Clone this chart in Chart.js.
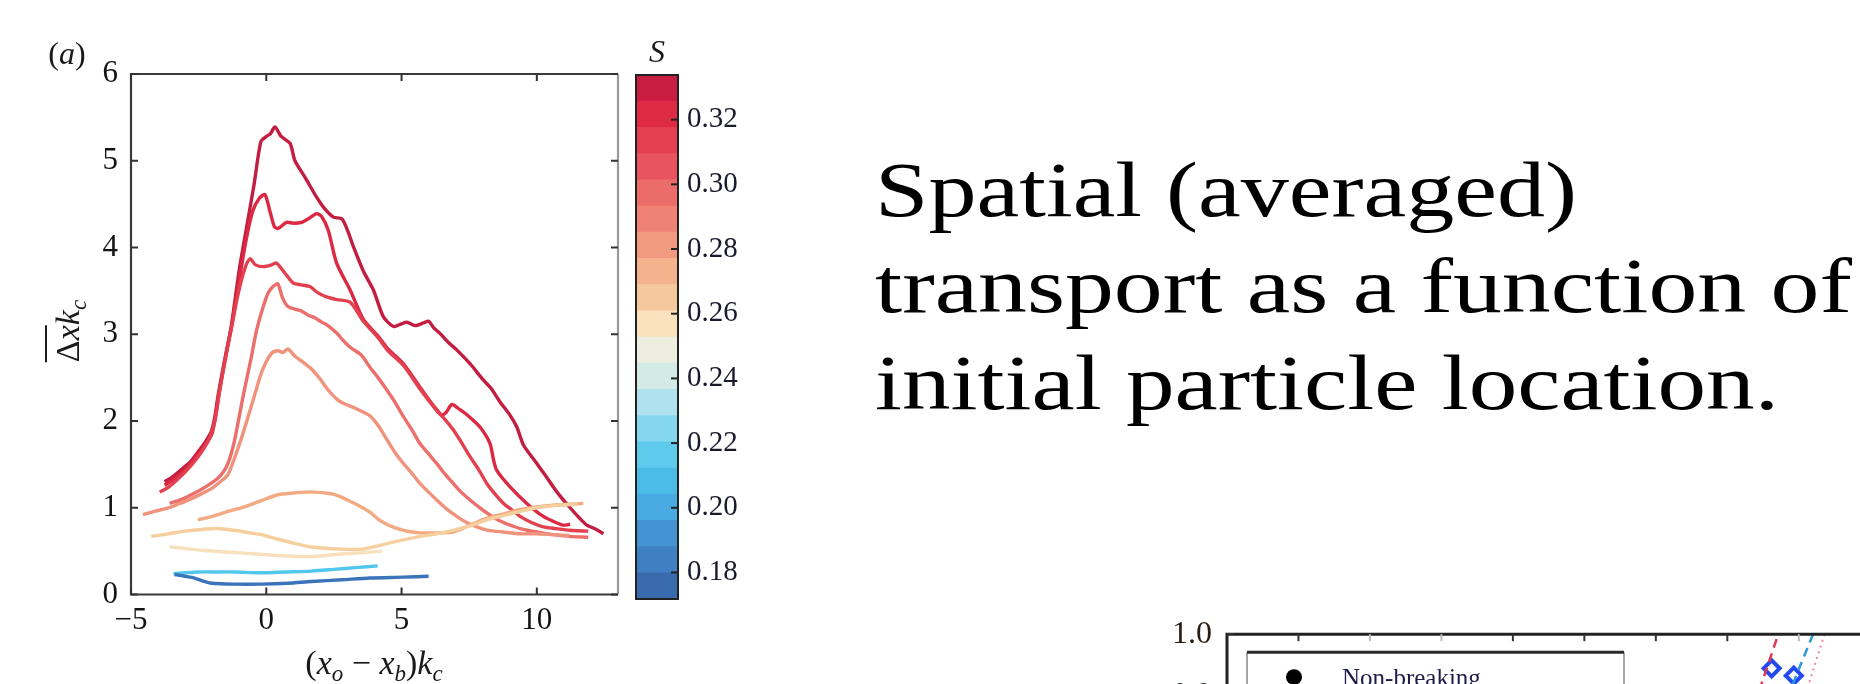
<!DOCTYPE html>
<html><head><meta charset="utf-8">
<script src="https://cdn.jsdelivr.net/npm/chart.js@4.4.0/dist/chart.umd.min.js"></script>
<style>
html,body{margin:0;padding:0;width:1860px;height:684px;overflow:hidden;background:#fff;}
canvas{position:absolute;}
#main{left:0;top:0;}
#cbar{left:600px;top:0;}
#snip{left:1140px;top:600px;}
.txt{position:absolute;left:875px;font-family:"Liberation Serif","Times New Roman",serif;color:#000;white-space:nowrap;transform-origin:0 0;line-height:1;}
</style></head><body>
<canvas id="main" width="630" height="684"></canvas>
<canvas id="cbar" width="160" height="684"></canvas>
<canvas id="snip" width="780" height="520"></canvas>
<div class="txt" id="l1">Spatial (averaged)</div>
<div class="txt" id="l2">transport as a function of</div>
<div class="txt" id="l3">initial particle location.</div>
<script>
// ---------- main panel data ----------
const xTicks = [-5, 0, 5, 10];
const yTicks = [0, 1, 2, 3, 4, 5, 6];
const curveA = [[-3.76,1.30],[-3.45,1.36],[-3.14,1.44],[-2.8,1.53],[-2.53,1.64],[-2.25,1.76],[-2.03,1.88],[-1.9,2.05],[-1.79,2.28],[-1.54,2.70],[-1.3,3.08],[-1.0,3.74],[-0.7,4.28],[-0.45,4.73],[-0.2,5.22],[0.0,5.28],[0.15,5.31],[0.32,5.39],[0.55,5.28],[0.88,5.20],[1.06,5.00],[1.45,4.80],[1.86,4.58],[2.15,4.45],[2.48,4.35],[2.79,4.33],[3.0,4.20],[3.22,4.01],[3.6,3.72],[3.96,3.51],[4.33,3.20],[4.70,3.09],[5.0,3.12],[5.19,3.14],[5.5,3.10],[5.81,3.13],[6.0,3.15],[6.2,3.07],[6.42,3.01],[6.75,2.90],[7.04,2.82],[7.53,2.66],[8.03,2.47],[8.3,2.38],[8.64,2.22],[9.0,2.07],[9.26,1.93],[9.51,1.72],[10.0,1.51],[10.3,1.38],[10.61,1.24],[10.9,1.12],[11.23,1.00],[11.55,0.89],[11.85,0.80],[12.2,0.75],[12.46,0.70]];
const curveB = [[-3.76,1.26],[-3.4,1.33],[-3.0,1.44],[-2.6,1.58],[-2.2,1.75],[-2.0,1.86],[-1.85,2.1],[-1.7,2.4],[-1.5,2.75],[-1.25,3.15],[-1.0,3.62],[-0.75,4.08],[-0.5,4.42],[-0.25,4.57],[-0.05,4.61],[0.15,4.40],[0.30,4.24],[0.44,4.22],[0.75,4.29],[1.0,4.28],[1.31,4.29],[1.6,4.34],[1.86,4.39],[2.04,4.36],[2.29,4.20],[2.6,3.82],[3.1,3.51],[3.59,3.17],[4.13,2.98],[4.5,2.83],[5.07,2.66],[5.68,2.39],[6.0,2.25],[6.30,2.13],[6.49,2.07],[6.65,2.10],[6.86,2.19],[7.16,2.13],[7.5,2.05],[7.9,1.93],[8.27,1.74],[8.4,1.55],[8.52,1.43],[9.01,1.24],[9.63,1.05],[10.24,0.90],[10.7,0.83],[10.98,0.80],[11.23,0.81]];
const curveC = [[-3.94,1.18],[-3.6,1.24],[-3.2,1.35],[-2.8,1.48],[-2.4,1.64],[-2.1,1.80],[-1.9,2.0],[-1.75,2.3],[-1.55,2.65],[-1.3,3.05],[-1.05,3.45],[-0.8,3.75],[-0.6,3.87],[-0.4,3.80],[-0.1,3.78],[0.2,3.80],[0.38,3.82],[0.7,3.70],[1.0,3.59],[1.3,3.57],[1.61,3.55],[1.9,3.48],[2.23,3.43],[2.6,3.40],[3.1,3.37],[3.59,3.15],[4.13,2.96],[4.5,2.81],[5.07,2.64],[5.68,2.37],[6.30,2.12],[6.6,2.02],[6.91,1.90],[7.2,1.76],[7.53,1.59],[7.85,1.44],[8.15,1.28],[8.45,1.16],[8.77,1.05],[9.1,0.97],[9.38,0.90],[9.8,0.83],[10.24,0.78],[10.7,0.76],[11.23,0.74],[11.9,0.73]];
const curveD = [[-3.57,1.05],[-3.1,1.10],[-2.65,1.17],[-2.2,1.25],[-1.79,1.34],[-1.55,1.43],[-1.42,1.51],[-1.3,1.62],[-1.17,1.78],[-1.0,2.05],[-0.86,2.28],[-0.7,2.52],[-0.55,2.74],[-0.37,3.03],[-0.15,3.28],[0.06,3.47],[0.25,3.55],[0.43,3.58],[0.6,3.42],[0.80,3.32],[1.05,3.29],[1.29,3.27],[1.55,3.22],[1.79,3.19],[2.05,3.14],[2.28,3.10],[2.65,3.00],[2.78,2.95],[3.1,2.85],[3.51,2.76],[3.83,2.62],[4.13,2.50],[4.45,2.36],[4.75,2.22],[5.07,2.05],[5.4,1.89],[5.68,1.74],[6.0,1.62],[6.30,1.51],[6.6,1.39],[6.91,1.28],[7.2,1.18],[7.53,1.09],[7.85,1.01],[8.15,0.94],[8.45,0.88],[8.77,0.83],[9.1,0.79],[9.38,0.76],[10.0,0.72],[10.61,0.69],[11.2,0.67],[11.9,0.66]];
const curveE = [[-4.56,0.92],[-4.1,0.96],[-3.6,1.00],[-3.27,1.04],[-2.8,1.10],[-2.4,1.16],[-2.03,1.22],[-1.7,1.30],[-1.42,1.38],[-1.2,1.55],[-0.92,1.80],[-0.7,2.02],[-0.43,2.30],[-0.15,2.58],[0.19,2.78],[0.43,2.81],[0.62,2.79],[0.80,2.83],[1.05,2.75],[1.35,2.68],[1.67,2.60],[2.0,2.48],[2.28,2.36],[2.65,2.24],[2.95,2.19],[3.27,2.15],[3.6,2.10],[3.83,2.06],[4.13,1.95],[4.45,1.79],[4.75,1.64],[5.07,1.51],[5.4,1.39],[5.68,1.28],[6.0,1.18],[6.30,1.09],[6.65,0.99],[7.04,0.90],[7.4,0.83],[7.78,0.78],[8.2,0.74],[8.77,0.72],[9.4,0.70],[10.0,0.70],[10.6,0.69],[11.2,0.68]];
const curveF = [[-2.53,0.86],[-2.0,0.90],[-1.5,0.95],[-0.80,1.01],[-0.2,1.08],[0.43,1.15],[1.0,1.17],[1.5,1.18],[1.79,1.18],[2.2,1.17],[2.53,1.15],[3.0,1.09],[3.51,1.01],[3.83,0.95],[4.13,0.87],[4.45,0.81],[4.75,0.77],[5.07,0.74],[5.4,0.72],[5.68,0.71],[6.3,0.71],[6.91,0.72],[7.53,0.80],[8.15,0.88],[8.77,0.93],[9.4,0.98],[10.0,1.01],[10.6,1.03],[11.2,1.04],[11.72,1.05]];
const curveG = [[-4.25,0.67],[-3.6,0.70],[-3.0,0.73],[-2.4,0.75],[-1.79,0.76],[-1.2,0.74],[-0.6,0.71],[-0.18,0.69],[0.4,0.64],[1.05,0.59],[1.6,0.55],[2.28,0.53],[3.0,0.52],[3.5,0.52],[3.83,0.54],[4.13,0.56],[4.5,0.59],[5.07,0.63],[5.7,0.67],[6.30,0.70],[6.9,0.74],[7.53,0.79],[8.15,0.86],[8.77,0.91],[9.4,0.96],[10.0,1.00],[10.8,1.03],[11.5,1.04]];
const curveH = [[-3.57,0.55],[-3.0,0.53],[-2.4,0.51],[-1.42,0.49],[-0.5,0.47],[0.4,0.45],[1.05,0.44],[1.8,0.44],[2.5,0.46],[2.9,0.47],[3.5,0.48],[4.27,0.50]];
const curveI = [[-3.43,0.24],[-3.0,0.25],[-2.5,0.26],[-2.03,0.26],[-1.2,0.26],[-0.18,0.25],[0.73,0.26],[1.67,0.27],[2.5,0.29],[3.3,0.31],[4.12,0.33]];
const curveJ = [[-3.39,0.23],[-3.0,0.21],[-2.65,0.19],[-2.3,0.15],[-2.03,0.13],[-1.2,0.12],[-0.18,0.12],[0.8,0.13],[1.67,0.15],[2.8,0.17],[3.83,0.19],[5.07,0.20],[6.0,0.21]];
const curveS = [0.185, 0.215, 0.257, 0.265, 0.275, 0.283, 0.300, 0.312, 0.320, 0.330];
const curveList = [curveJ, curveI, curveH, curveG, curveF, curveE, curveD, curveC, curveB, curveA];
const curveColors = ['#3b74bb','#52c6ec','#f8e0bc','#f6cf9e','#f3aa82','#f1937c','#ec6f6c','#e3404f','#dc2843','#c31d3f'];

// ---------- colour bar data ----------
const sTicks = [0.18, 0.20, 0.22, 0.24, 0.26, 0.28, 0.30, 0.32];
const sBandEdges = [0.1718,0.1799,0.1880,0.1961,0.2042,0.2123,0.2204,0.2285,0.2366,0.2447,0.2528,0.2609,0.2690,0.2771,0.2852,0.2933,0.3014,0.3095,0.3176,0.3257,0.3338];
const sBandColors = ['#3a6aae','#3f80c2','#4494d3','#48aae0','#4bbce6','#5ecbed','#84d7ef','#afe2ee','#d3ebe6','#edede0','#f9e2bd','#f6c89d','#f4b28d','#f19a80','#ef8274','#ec6c6a','#e8555e','#e53e50','#df2a44','#c81d41'];

// ---------- lower-right fragment data ----------
const snipXTicks = [1, 2, 3, 4, 5, 6, 7, 8, 9];
const snipYTicks = [0.4, 0.5, 0.6, 0.7, 0.8, 0.9, 1.0];
const snipDiamonds = [[7.62, 0.944], [7.93, 0.932]];
const snipRedDash = [[7.69, 0.992], [7.50, 0.926], [7.33, 0.866]];
const snipBlueDash = [[8.20, 1.0], [7.88, 0.908], [7.74, 0.866]];
const snipRedDot = [[8.36, 1.0], [8.11, 0.908], [7.98, 0.866]];
const snipLegend = ['Non-breaking'];

const SERIF = '"Liberation Serif","Times New Roman",serif';

function drawRich(ctx, parts, cx, baseY) {
  let w = 0;
  parts.forEach(p => { ctx.font = p.f; p.w = ctx.measureText(p.t).width; w += p.w; });
  let x = cx - w / 2;
  ctx.textBaseline = 'alphabetic'; ctx.textAlign = 'left';
  parts.forEach(p => { ctx.font = p.f; ctx.fillText(p.t, x, baseY + (p.dy || 0)); p.x = x; x += p.w; });
  return parts;
}

const mainDeco = {
  id: 'mainDeco',
  afterDraw(chart) {
    const { ctx, chartArea: a, scales } = chart;
    ctx.save();
    ctx.lineCap = 'butt';
    ctx.lineWidth = 2.2;
    ctx.strokeStyle = '#3a3a3a';
    ctx.beginPath();
    ctx.moveTo(a.right, a.top); ctx.lineTo(a.left, a.top); ctx.lineTo(a.left, a.bottom); ctx.lineTo(a.right, a.bottom);
    ctx.stroke();
    ctx.strokeStyle = '#9a9a9a';
    ctx.beginPath(); ctx.moveTo(a.right, a.top); ctx.lineTo(a.right, a.bottom); ctx.stroke();
    ctx.lineWidth = 2;
    ctx.strokeStyle = '#333';
    const L = 7;
    scales.x.ticks.forEach(t => {
      const px = scales.x.getPixelForValue(t.value);
      ctx.beginPath();
      ctx.moveTo(px, a.bottom); ctx.lineTo(px, a.bottom - L);
      ctx.moveTo(px, a.top); ctx.lineTo(px, a.top + L);
      ctx.stroke();
    });
    scales.y.ticks.forEach(t => {
      const py = scales.y.getPixelForValue(t.value);
      ctx.beginPath();
      ctx.moveTo(a.left, py); ctx.lineTo(a.left + L, py);
      ctx.moveTo(a.right, py); ctx.lineTo(a.right - L, py);
      ctx.stroke();
    });
    ctx.fillStyle = '#1a1a1a';
    const fs = 34, sb = 23;
    drawRich(ctx, [
      { t: '(', f: `${fs}px ${SERIF}` },
      { t: 'x', f: `italic ${fs}px ${SERIF}` },
      { t: 'o', f: `italic ${sb}px ${SERIF}`, dy: 7 },
      { t: ' \u2212 ', f: `${fs}px ${SERIF}` },
      { t: 'x', f: `italic ${fs}px ${SERIF}` },
      { t: 'b', f: `italic ${sb}px ${SERIF}`, dy: 7 },
      { t: ')', f: `${fs}px ${SERIF}` },
      { t: 'k', f: `italic ${fs}px ${SERIF}` },
      { t: 'c', f: `italic ${sb}px ${SERIF}`, dy: 7 }
    ], 374, 674);
    ctx.save();
    ctx.translate(79, 331);
    ctx.rotate(-Math.PI / 2);
    const parts = drawRich(ctx, [
      { t: '\u0394', f: `${fs}px ${SERIF}` },
      { t: 'x', f: `italic ${fs}px ${SERIF}` },
      { t: 'k', f: `italic ${fs}px ${SERIF}` },
      { t: 'c', f: `italic ${sb}px ${SERIF}`, dy: 7 }
    ], 0, 0);
    ctx.lineWidth = 2;
    ctx.strokeStyle = '#1a1a1a';
    ctx.beginPath();
    ctx.moveTo(parts[0].x, -33); ctx.lineTo(parts[1].x + parts[1].w, -33);
    ctx.stroke();
    ctx.restore();
    drawRich(ctx, [
      { t: '(', f: `32px ${SERIF}` },
      { t: 'a', f: `italic 32px ${SERIF}` },
      { t: ')', f: `32px ${SERIF}` }
    ], 67, 64);
    ctx.restore();
  }
};

new Chart(document.getElementById('main'), {
  type: 'line',
  data: {
    datasets: curveList.map((c, i) => ({
      label: 'S = ' + curveS[i],
      data: c.map(p => ({ x: p[0], y: p[1] })),
      borderColor: curveColors[i],
      borderWidth: 3.4,
      pointRadius: 0,
      tension: 0.25,
      fill: false
    }))
  },
  options: {
    responsive: false,
    animation: false,
    layout: { padding: { top: 74, right: 12, left: 0, bottom: 0 } },
    plugins: { legend: { display: false }, tooltip: { enabled: false } },
    scales: {
      x: {
        type: 'linear', min: -5, max: 13,
        afterBuildTicks: s => { s.ticks = xTicks.map(v => ({ value: v })); },
        afterFit: s => { s.height = 89.5; },
        grid: { display: false, drawTicks: false },
        border: { display: false },
        ticks: { padding: 8, color: '#141414', font: { family: SERIF, size: 31 }, callback: v => String(v).replace('-', '\u2212') }
      },
      y: {
        type: 'linear', min: 0, max: 6,
        afterBuildTicks: s => { s.ticks = yTicks.map(v => ({ value: v })); },
        afterFit: s => { s.width = 131; },
        grid: { display: false, drawTicks: false },
        border: { display: false },
        ticks: { padding: 13, color: '#141414', font: { family: SERIF, size: 31 } }
      }
    }
  },
  plugins: [mainDeco]
});

// ---------- colour bar ----------
const cbarDeco = {
  id: 'cbarDeco',
  afterDraw(chart) {
    const { ctx, chartArea: a, scales } = chart;
    ctx.save();
    ctx.strokeStyle = '#222';
    ctx.lineWidth = 2;
    ctx.strokeRect(a.left, a.top, a.right - a.left, a.bottom - a.top);
    scales.y.ticks.forEach(t => {
      const py = scales.y.getPixelForValue(t.value);
      ctx.beginPath(); ctx.moveTo(a.right, py); ctx.lineTo(a.right - 7, py); ctx.stroke();
    });
    ctx.fillStyle = '#1a1a1a';
    ctx.font = `italic 32px ${SERIF}`;
    ctx.textAlign = 'center'; ctx.textBaseline = 'alphabetic';
    ctx.fillText('S', (a.left + a.right) / 2, 62);
    ctx.restore();
  }
};
new Chart(document.getElementById('cbar'), {
  type: 'bar',
  data: {
    labels: [''],
    datasets: sBandColors.map((c, i) => ({
      data: [[sBandEdges[i], sBandEdges[i + 1]]],
      backgroundColor: c, borderWidth: 0, barPercentage: 1, categoryPercentage: 1, grouped: false
    }))
  },
  options: {
    responsive: false,
    animation: false,
    layout: { padding: { top: 75, left: 36, right: 0, bottom: 85 } },
    plugins: { legend: { display: false }, tooltip: { enabled: false } },
    scales: {
      x: { display: false },
      y: {
        type: 'linear', position: 'right', min: sBandEdges[0], max: sBandEdges[sBandEdges.length - 1],
        afterBuildTicks: s => { s.ticks = sTicks.map(v => ({ value: v })); },
        afterFit: s => { s.width = 82; },
        grid: { display: false, drawTicks: false },
        border: { display: false },
        ticks: { padding: 9, color: '#1a1a2e', font: { family: SERIF, size: 29 }, callback: v => v.toFixed(2) }
      }
    }
  },
  plugins: [cbarDeco]
});

// ---------- lower-right fragment ----------
const snipShade = ['#333', '#bbb', '#bbb', '#333', '#333', '#333', '#333', '#bbb', '#333'];
const snipDeco = {
  id: 'snipDeco',
  afterDatasetsDraw(chart) {
    const { ctx, chartArea: a, scales } = chart;
    ctx.save();
    const bx = a.left + 20, by = a.top + 18, bw = 377;
    ctx.fillStyle = '#fff';
    ctx.fillRect(bx, by, bw, 200);
    ctx.strokeStyle = '#8a8a8a'; ctx.lineWidth = 1.5;
    ctx.beginPath(); ctx.moveTo(bx, by); ctx.lineTo(bx, by + 200); ctx.moveTo(bx + bw, by); ctx.lineTo(bx + bw, by + 200); ctx.stroke();
    ctx.strokeStyle = '#2a2a2a'; ctx.lineWidth = 3;
    ctx.beginPath(); ctx.moveTo(bx, by); ctx.lineTo(bx + bw, by); ctx.stroke();
    ctx.fillStyle = '#000';
    ctx.beginPath(); ctx.arc(bx + 47, by + 25, 8, 0, Math.PI * 2); ctx.fill();
    ctx.fillStyle = '#1c1c48';
    ctx.font = `25px ${SERIF}`;
    ctx.textAlign = 'left'; ctx.textBaseline = 'middle';
    ctx.fillText(snipLegend[0], bx + 95, by + 27);
    ctx.strokeStyle = '#222'; ctx.lineWidth = 3;
    ctx.beginPath(); ctx.moveTo(a.right, a.top); ctx.lineTo(a.left, a.top); ctx.lineTo(a.left, a.bottom); ctx.stroke();
    ctx.lineWidth = 2;
    scales.x.ticks.forEach((t, i) => {
      const px = scales.x.getPixelForValue(t.value);
      ctx.strokeStyle = snipShade[i];
      ctx.beginPath(); ctx.moveTo(px, a.top); ctx.lineTo(px, a.top + 7); ctx.stroke();
    });
    ctx.strokeStyle = '#333';
    scales.y.ticks.forEach(t => {
      const py = scales.y.getPixelForValue(t.value);
      ctx.beginPath(); ctx.moveTo(a.left, py); ctx.lineTo(a.left + 6, py); ctx.stroke();
    });
    ctx.restore();
  }
};
new Chart(document.getElementById('snip'), {
  type: 'scatter',
  data: {
    datasets: [
      { data: snipRedDash.map(p => ({ x: p[0], y: p[1] })), showLine: true, pointRadius: 0, borderColor: '#e2354f', borderWidth: 2.5, borderDash: [9, 6] },
      { data: snipBlueDash.map(p => ({ x: p[0], y: p[1] })), showLine: true, pointRadius: 0, borderColor: '#2f9ad8', borderWidth: 2.5, borderDash: [9, 6] },
      { data: snipRedDot.map(p => ({ x: p[0], y: p[1] })), showLine: true, pointRadius: 0, borderColor: '#f0899a', borderWidth: 2, borderDash: [2, 4] },
      { data: snipDiamonds.map(p => ({ x: p[0], y: p[1] })), pointStyle: 'rectRot', pointRadius: 8, borderColor: '#2347f0', borderWidth: 4, backgroundColor: '#fff' }
    ]
  },
  options: {
    responsive: false,
    animation: false,
    layout: { padding: { top: 27, left: 0, right: 14, bottom: 0 } },
    plugins: { legend: { display: false }, tooltip: { enabled: false } },
    scales: {
      x: {
        type: 'linear', min: 0, max: 9.5,
        afterBuildTicks: s => { s.ticks = snipXTicks.map(v => ({ value: v })); },
        afterFit: s => { s.height = 59; },
        grid: { display: false, drawTicks: false }, border: { display: false },
        ticks: { color: '#1a1a1a', font: { family: SERIF, size: 30 } }
      },
      y: {
        type: 'linear', min: 0.3, max: 1.0,
        afterBuildTicks: s => { s.ticks = snipYTicks.map(v => ({ value: v })); },
        afterFit: s => { s.width = 87; },
        grid: { display: false, drawTicks: false }, border: { display: false },
        ticks: { padding: 15, color: '#2a1a10', font: { family: SERIF, size: 32 }, callback: v => v.toFixed(1) }
      }
    }
  },
  plugins: [snipDeco]
});

// ---------- text block ----------
(function () {
  const c = document.createElement('canvas').getContext('2d');
  const F = 78;
  const lines = [['l1', 702, 216], ['l2', 977, 312], ['l3', 904, 409]];
  lines.forEach(([id, targetW, base]) => {
    const el = document.getElementById(id);
    el.style.fontSize = F + 'px';
    c.font = `${F}px "Liberation Serif"`;
    const w = c.measureText(el.textContent).width;
    el.style.top = (base - 0.8375 * F) + 'px';
    el.style.transform = `scaleX(${(targetW / w).toFixed(4)})`;
  });
})();
</script>
</body></html>
